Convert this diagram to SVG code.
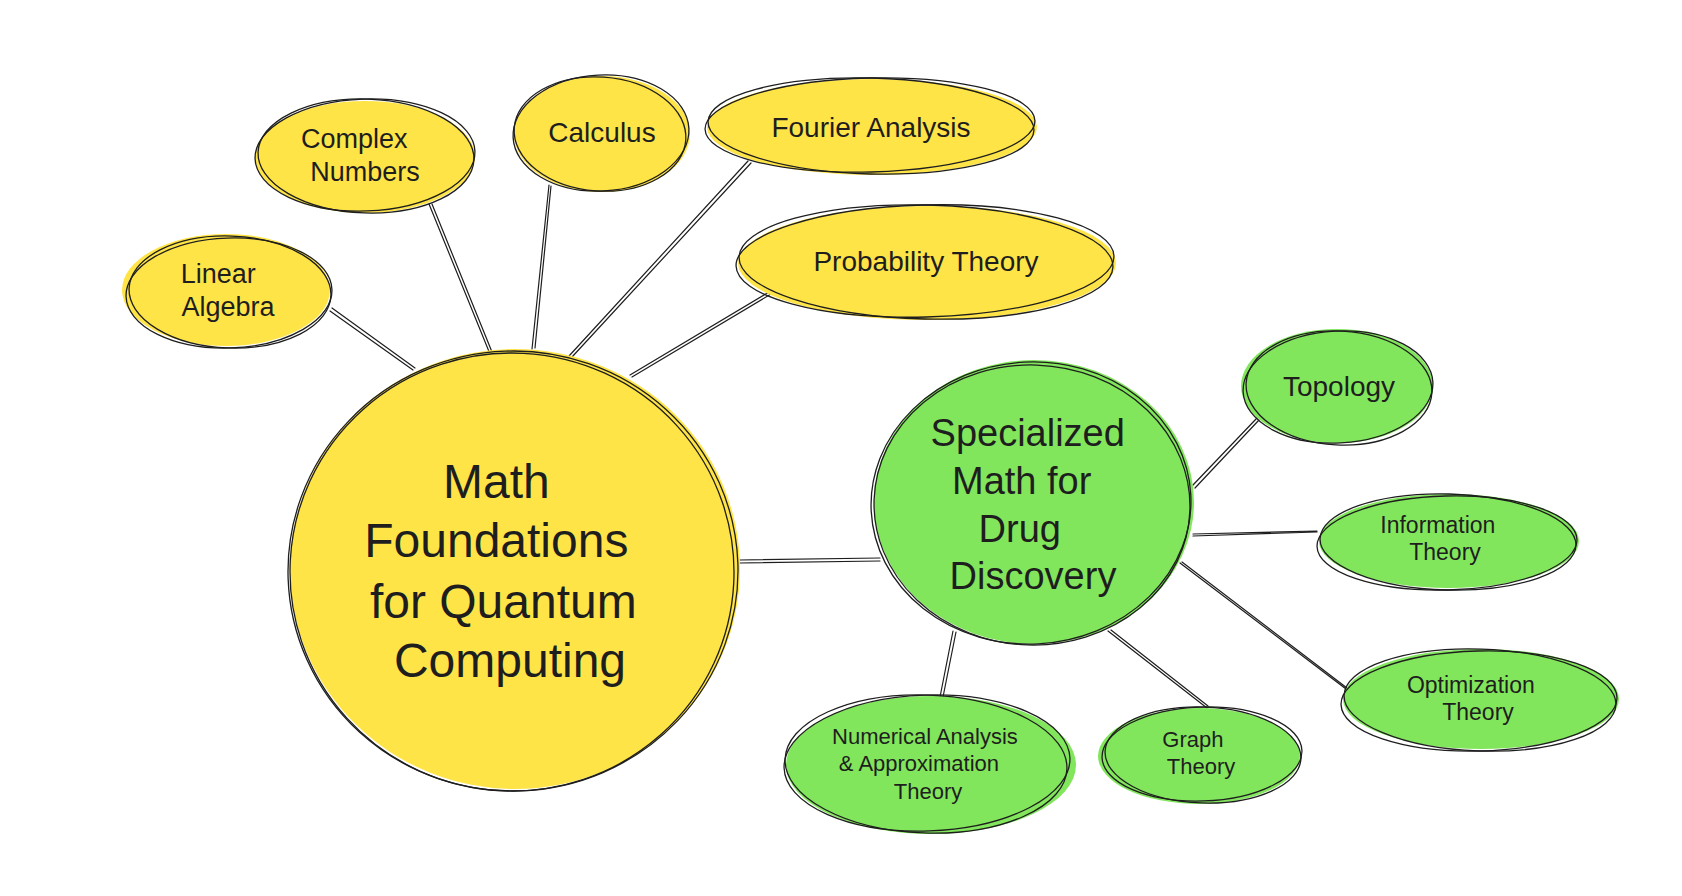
<svg xmlns="http://www.w3.org/2000/svg" width="1682" height="896" viewBox="0 0 1682 896">
  <style>
    .fy { fill: #ffe448; stroke: none; }
    .fg { fill: #82e65c; stroke: none; }
    .s { fill: none; stroke: #1e1e1e; stroke-width: 1.3; }
    .ln { fill: none; stroke: #1e1e1e; stroke-width: 1.2; stroke-linecap: round; }
    text { font-family: "Liberation Sans", Arial, sans-serif; fill: #1e1e1e; text-anchor: middle; }
  </style>
  <rect width="1682" height="896" fill="#ffffff"/>

  <!-- connectors: each drawn as two slightly offset strokes for a sketched look -->
  <g id="connectors">
    <path class="ln" d="M330 311 L413 370 M332 308 L415 368"/>
    <path class="ln" d="M429 204 L490 354 M432 204 L492 352"/>
    <path class="ln" d="M549 185 L532 349 M551 186 L535 348"/>
    <path class="ln" d="M748 161 L569 356 M751 163 L572 357"/>
    <path class="ln" d="M769 292 L630 375 M771 294 L632 377"/>
    <path class="ln" d="M740 560 L880 558 M740 563 L880 561"/>
    <path class="ln" d="M1193 485 L1257 418 M1195 488 L1259 420"/>
    <path class="ln" d="M1193 534 L1317 531 M1193 536 L1317 532"/>
    <path class="ln" d="M1180 563 L1346 689 M1182 562 L1347 688"/>
    <path class="ln" d="M1108 631 L1207 708 M1111 630 L1208 706"/>
    <path class="ln" d="M953 631 L940 697 M956 632 L943 697"/>
  </g>

  <g id="main-quantum">
    <ellipse class="fy" cx="515" cy="569" rx="225" ry="220"/>
    <ellipse class="s" cx="513" cy="571" rx="225" ry="220" transform="rotate(-2 513 571)"/>
    <ellipse class="s" cx="512" cy="572" rx="222" ry="219" transform="rotate(3 512 572)"/>
    <text font-size="48">
      <tspan x="503" y="498">Math</tspan>
      <tspan x="503" y="557">Foundations</tspan>
      <tspan x="510" y="618">for Quantum</tspan>
      <tspan x="510" y="677">Computing</tspan>
    </text>
  </g>

  <g id="drug-discovery">
    <ellipse class="fg" cx="1034" cy="502" rx="160" ry="142"/>
    <ellipse class="s" cx="1031" cy="503" rx="160" ry="141" transform="rotate(-3 1031 503)"/>
    <ellipse class="s" cx="1032" cy="505" rx="158" ry="140" transform="rotate(2 1032 505)"/>
    <text font-size="38">
      <tspan x="1033" y="446">Specialized</tspan>
      <tspan x="1027" y="494">Math for</tspan>
      <tspan x="1025" y="542">Drug</tspan>
      <tspan x="1033" y="589">Discovery</tspan>
    </text>
  </g>

  <g id="linear-algebra">
    <ellipse class="fy" cx="226" cy="290" rx="104" ry="56"/>
    <ellipse class="s" cx="229" cy="293" rx="103" ry="55" transform="rotate(-2 229 293)"/>
    <ellipse class="s" cx="230" cy="292" rx="101" ry="56" transform="rotate(2 230 292)"/>
    <text font-size="27">
      <tspan x="222" y="283">Linear</tspan>
      <tspan x="228" y="316">Algebra</tspan>
    </text>
  </g>

  <g id="complex-numbers">
    <ellipse class="fy" cx="365" cy="157" rx="110" ry="56"/>
    <ellipse class="s" cx="365" cy="155" rx="110" ry="56" transform="rotate(-2 365 155)"/>
    <ellipse class="s" cx="366" cy="156" rx="108" ry="57" transform="rotate(2 366 156)"/>
    <text font-size="27">
      <tspan x="358" y="148">Complex</tspan>
      <tspan x="365" y="181">Numbers</tspan>
    </text>
  </g>

  <g id="calculus">
    <ellipse class="fy" cx="602" cy="134" rx="88" ry="58"/>
    <ellipse class="s" cx="601" cy="133" rx="88" ry="58" transform="rotate(-3 601 133)"/>
    <ellipse class="s" cx="600" cy="134" rx="86" ry="57" transform="rotate(4 600 134)"/>
    <text font-size="28" x="602" y="142">Calculus</text>
  </g>

  <g id="fourier-analysis">
    <ellipse class="fy" cx="872" cy="127" rx="165" ry="48"/>
    <ellipse class="s" cx="870" cy="125" rx="165" ry="47" transform="rotate(-1.5 870 125)"/>
    <ellipse class="s" cx="871" cy="126" rx="163" ry="48" transform="rotate(1.5 871 126)"/>
    <text font-size="28" x="871" y="137">Fourier Analysis</text>
  </g>

  <g id="probability-theory">
    <ellipse class="fy" cx="927" cy="263" rx="189" ry="57"/>
    <ellipse class="s" cx="925" cy="261" rx="189" ry="56" transform="rotate(-1.5 925 261)"/>
    <ellipse class="s" cx="926" cy="262" rx="187" ry="57" transform="rotate(1.5 926 262)"/>
    <text font-size="28" x="926" y="271">Probability Theory</text>
  </g>

  <g id="topology">
    <ellipse class="fg" cx="1337" cy="386" rx="96" ry="57"/>
    <ellipse class="s" cx="1338" cy="387" rx="95" ry="56" transform="rotate(-3 1338 387)"/>
    <ellipse class="s" cx="1339" cy="388" rx="93" ry="57" transform="rotate(3 1339 388)"/>
    <text font-size="28" x="1339" y="396">Topology</text>
  </g>

  <g id="information-theory">
    <ellipse class="fg" cx="1449" cy="541" rx="130" ry="47"/>
    <ellipse class="s" cx="1447" cy="543" rx="130" ry="47" transform="rotate(-1.5 1447 543)"/>
    <ellipse class="s" cx="1448" cy="542" rx="128" ry="48" transform="rotate(1.5 1448 542)"/>
    <text font-size="23">
      <tspan x="1441" y="533">Information</tspan>
      <tspan x="1445" y="560">Theory</tspan>
    </text>
  </g>

  <g id="optimization-theory">
    <ellipse class="fg" cx="1481" cy="699" rx="138" ry="50"/>
    <ellipse class="s" cx="1479" cy="701" rx="138" ry="50" transform="rotate(-1.5 1479 701)"/>
    <ellipse class="s" cx="1480" cy="700" rx="136" ry="51" transform="rotate(2 1480 700)"/>
    <text font-size="23">
      <tspan x="1474" y="693">Optimization</tspan>
      <tspan x="1478" y="720">Theory</tspan>
    </text>
  </g>

  <g id="numerical-analysis">
    <ellipse class="fg" cx="931" cy="765" rx="145" ry="69"/>
    <ellipse class="s" cx="927" cy="763" rx="143" ry="68" transform="rotate(-2 927 763)"/>
    <ellipse class="s" cx="926" cy="764" rx="141" ry="69" transform="rotate(2 926 764)"/>
    <text font-size="22">
      <tspan x="928" y="744">Numerical Analysis</tspan>
      <tspan x="922" y="771">&amp; Approximation</tspan>
      <tspan x="928" y="799">Theory</tspan>
    </text>
  </g>

  <g id="graph-theory">
    <ellipse class="fg" cx="1199" cy="756" rx="101" ry="48"/>
    <ellipse class="s" cx="1202" cy="754" rx="100" ry="47" transform="rotate(-2 1202 754)"/>
    <ellipse class="s" cx="1203" cy="755" rx="98" ry="48" transform="rotate(2 1203 755)"/>
    <text font-size="22">
      <tspan x="1196" y="747">Graph</tspan>
      <tspan x="1201" y="774">Theory</tspan>
    </text>
  </g>
</svg>
